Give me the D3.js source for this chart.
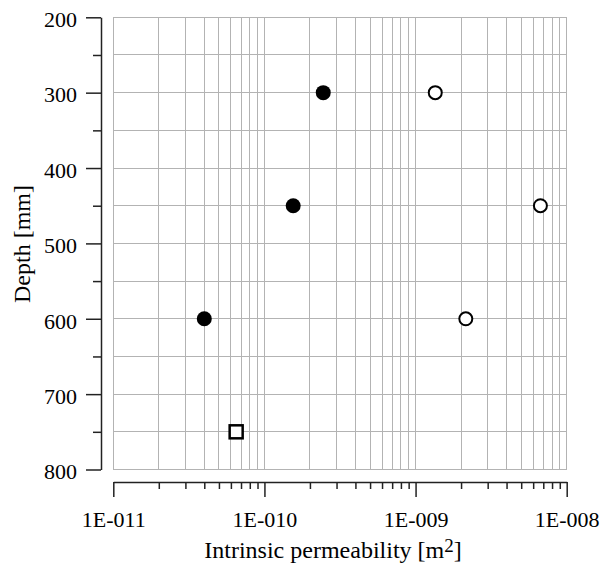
<!DOCTYPE html>
<html>
<head>
<meta charset="utf-8">
<script src="https://cdn.jsdelivr.net/npm/d3@7"></script>
<style>
  body { margin: 0; background: #fff; }
  svg text { font-family: "Liberation Serif", "Times New Roman", serif; fill: #000; }
</style>
</head>
<body>
<script>
// values
const filledPerm = [2.45e-10, 1.55e-10, 4.0e-11]
const filledDepth = [300, 450, 600]
const openPerm = [1.35e-9, 6.7e-9, 2.15e-9]
const openDepth = [300, 450, 600]
const squarePerm = [6.5e-11]
const squareDepth = [750]

const xMajor = [1e-11, 1e-10, 1e-9, 1e-8]
const yMajor = [200, 300, 400, 500, 600, 700, 800]
const yMinor = [250, 350, 450, 550, 650, 750]

const width = 606, height = 571
const plotL = 113.3, plotR = 566.7, plotT = 17.3, plotB = 469.5
const yAxisX = 101, xAxisY = 482

const svg = d3.select("body").append("svg")
    .attr("width", width)
    .attr("height", height)

const x = d3.scaleLog().domain([1e-11, 1e-8]).range([plotL, plotR])
const y = d3.scaleLinear().domain([200, 800]).range([plotT, plotB])

// minor decade values 2..9 in each decade
const xMinor = []
xMajor.slice(0, -1).forEach(d => {
    for (let k = 2; k <= 9; k++) xMinor.push(d * k)
})
const xGrid = xMajor.concat(xMinor)
const yGrid = yMajor.concat(yMinor)

const grid = svg.append("g")
    .attr("stroke", "#b3b3b3")
    .attr("stroke-width", 1)
    .attr("shape-rendering", "crispEdges")

grid.selectAll(".vx")
    .data(xGrid)
    .enter().append("line")
    .attr("x1", d => x(d)).attr("x2", d => x(d))
    .attr("y1", plotT).attr("y2", plotB)

grid.selectAll(".hy")
    .data(yGrid)
    .enter().append("line")
    .attr("x1", plotL).attr("x2", plotR)
    .attr("y1", d => y(d)).attr("y2", d => y(d))

const fmt = d => "1E-" + String(-Math.round(Math.log10(d))).padStart(3, "0")

// x axis, sits below the grid
const gx = svg.append("g")
    .attr("transform", `translate(0,${xAxisY})`)
gx.call(d3.axisBottom(x).tickValues(xMinor).tickSize(7).tickSizeOuter(0).tickFormat(""))
gx.append("g").call(d3.axisBottom(x).tickValues(xMajor).tickSize(15).tickSizeOuter(0).tickFormat(fmt))
    .call(g => g.select(".domain").remove())
    .selectAll("text")
    .attr("dy", 0)
    .attr("y", 45)
    .style("font-size", "22px")

// y axis, sits left of the grid
const gy = svg.append("g")
    .attr("transform", `translate(${yAxisX},0)`)
gy.call(d3.axisLeft(y).tickValues(yMinor).tickSize(8).tickSizeOuter(0).tickFormat(""))
gy.append("g").call(d3.axisLeft(y).tickValues(yMajor).tickSize(15).tickSizeOuter(0).tickFormat(d3.format("d")))
    .call(g => g.select(".domain").remove())
    .selectAll("text")
    .attr("x", -24)
    .attr("dy", "0.42em")
    .style("font-size", "22px")

// drop d3's default sans-serif font on axis groups
svg.selectAll("g").attr("font-family", null).attr("font-size", null)

svg.selectAll(".domain, .tick line")
    .attr("stroke", "#222")
    .attr("stroke-width", 1.5)

// titles
const xt = svg.append("text")
    .attr("x", 333)
    .attr("y", 558)
    .attr("text-anchor", "middle")
    .style("font-size", "24px")
xt.append("tspan").text("Intrinsic permeability [m")
xt.append("tspan").attr("dy", -6).style("font-size", "19px").text("2")
xt.append("tspan").attr("dy", 6).text("]")

svg.append("text")
    .attr("transform", "translate(30,244) rotate(-90)")
    .attr("text-anchor", "middle")
    .style("font-size", "24px")
    .text("Depth [mm]")

// markers
svg.selectAll(".filled")
    .data(filledPerm.map((p, i) => [p, filledDepth[i]]))
    .enter().append("circle")
    .attr("cx", d => x(d[0]))
    .attr("cy", d => y(d[1]))
    .attr("r", 7.5)
    .attr("fill", "#000")

svg.selectAll(".open")
    .data(openPerm.map((p, i) => [p, openDepth[i]]))
    .enter().append("circle")
    .attr("cx", d => x(d[0]))
    .attr("cy", d => y(d[1]))
    .attr("r", 6.5)
    .attr("fill", "#fff")
    .attr("stroke", "#000")
    .attr("stroke-width", 2)

svg.selectAll(".square")
    .data(squarePerm.map((p, i) => [p, squareDepth[i]]))
    .enter().append("rect")
    .attr("x", d => x(d[0]) - 6.5)
    .attr("y", d => y(d[1]) - 6.5)
    .attr("width", 13)
    .attr("height", 13)
    .attr("fill", "#fff")
    .attr("stroke", "#000")
    .attr("stroke-width", 2.5)
</script>
</body>
</html>
